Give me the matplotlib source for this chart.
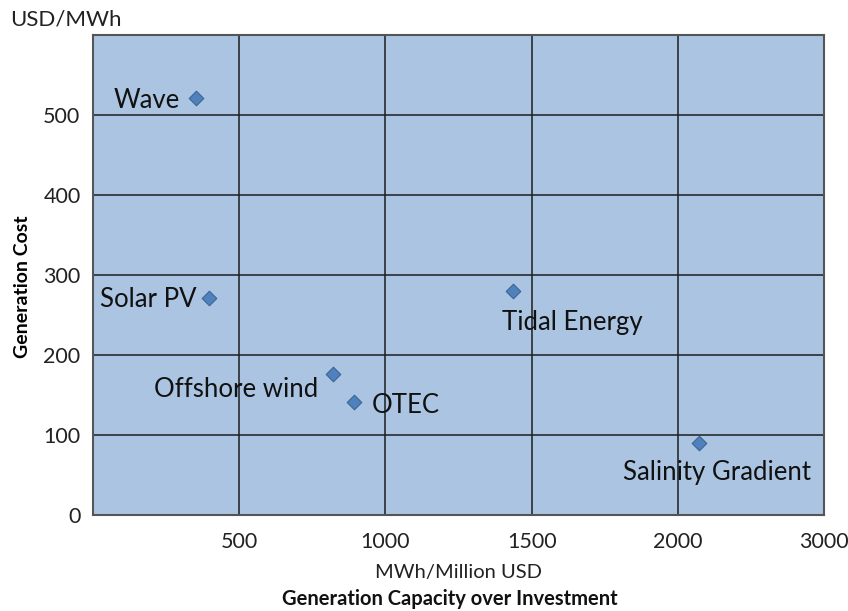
import matplotlib
matplotlib.use('Agg')
import matplotlib.pyplot as plt

# Data
names = ['Wave', 'Solar PV', 'Offshore wind', 'OTEC', 'Tidal Energy', 'Salinity Gradient']
capacity = [353, 397, 822, 894, 1435, 2072]
cost = [521, 271, 176, 141, 280, 90]

xtick_pos = [500, 1000, 1500, 2000, 2500]
xtick_labels = ['500', '1000', '1500', '2000', '3000']
ytick_pos = [0, 100, 200, 300, 400, 500]

plt.rcParams['font.family'] = ['Lato', 'DejaVu Sans']

fig = plt.figure(figsize=(8.48, 6.11), dpi=100)
ax = fig.add_axes([0.1097, 0.1571, 0.8620, 0.7856])

ax.set_facecolor('#aac4e2')
ax.scatter(capacity, cost, marker='D', s=55, color='#4f81bd', edgecolors='#3c6596',
           linewidths=0.8, zorder=3)

# labels next to each point (offsets in pixels)
offsets = {
    'Wave': (-16, -2, 'right'),
    'Solar PV': (-13, -1, 'right'),
    'Offshore wind': (-15, -15, 'right'),
    'OTEC': (17, -3, 'left'),
    'Tidal Energy': (60, -31, 'center'),
    'Salinity Gradient': (18, -29, 'center'),
}
for n, x, y in zip(names, capacity, cost):
    dx, dy, ha = offsets[n]
    ax.annotate(n, (x, y), xytext=(dx, dy), textcoords='offset pixels',
                ha=ha, va='center', fontsize=18.5, color='#111111')

ax.set_xlim(0, 2500)
ax.set_ylim(0, 600)
ax.set_xticks(xtick_pos)
ax.set_xticklabels(xtick_labels)
ax.set_yticks(ytick_pos)
ax.tick_params(length=0, labelsize=15.5, colors='#222222')
ax.tick_params(axis='x', pad=12)
ax.tick_params(axis='y', pad=9)

ax.grid(True, color='#1e1e1e', linewidth=1.1)
ax.set_axisbelow(True)
for s in ax.spines.values():
    s.set_color('#555555')
    s.set_linewidth(1.5)

ax.set_ylabel('Generation Cost', fontsize=14, fontweight='bold', va='center')
ax.yaxis.set_label_coords(-0.097, 0.475)
fig.text(0.5406, 0.063, 'MWh/Million USD', ha='center', va='center', fontsize=14.5, color='#222222')
fig.text(0.531, 0.019, 'Generation Capacity over Investment', ha='center', va='center',
         fontsize=14.5, fontweight='bold', color='#111111')
fig.text(0.012, 0.968, 'USD/MWh', ha='left', va='center', fontsize=16, color='#222222')

plt.savefig('out.png', dpi=100)
